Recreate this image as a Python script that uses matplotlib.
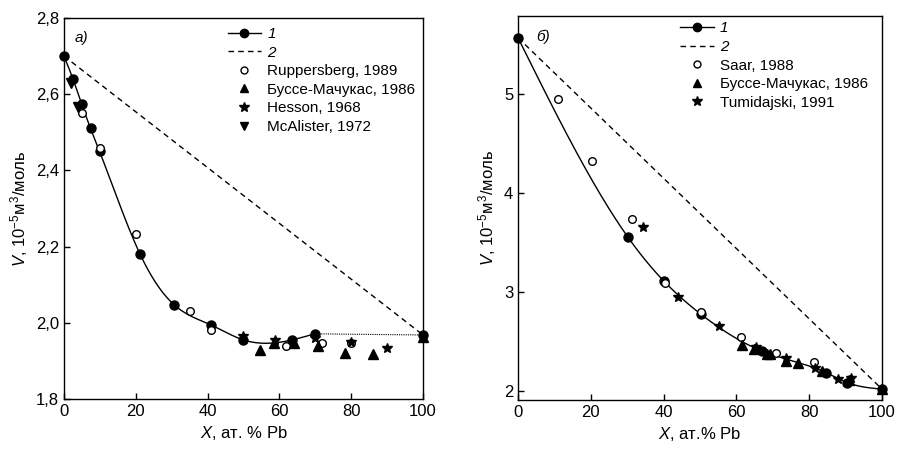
import numpy as np
import matplotlib
matplotlib.use("Agg")
import matplotlib.pyplot as plt
from matplotlib.lines import Line2D
from matplotlib.ticker import FuncFormatter

plt.rcParams["font.family"] = ["Liberation Sans", "DejaVu Sans"]
plt.rcParams["mathtext.fontset"] = "custom"
plt.rcParams["mathtext.rm"] = "Liberation Sans"
plt.rcParams["mathtext.it"] = "Liberation Sans:italic"
plt.rcParams["font.size"] = 11

# ---- panel a) ----
a_calc_x = [0, 2.5, 4.9, 7.4, 9.9, 21.2, 30.7, 41.0, 50.0, 63.5, 69.8]
a_calc_y = [2.70, 2.64, 2.575, 2.51, 2.45, 2.18, 2.047, 1.994, 1.955, 1.955, 1.971]
a_ideal_x = [0, 100]
a_ideal_y = [2.70, 1.968]
a_dot_x = [69.8, 100]
a_dot_y = [1.971, 1.968]
a_end_x = [100]
a_end_y = [1.968]

rupp_x = [4.9, 10.0, 20.0, 35.0, 40.9, 61.8, 72.0, 80.0]
rupp_y = [2.551, 2.458, 2.232, 2.031, 1.980, 1.940, 1.946, 1.948]
busse_a_x = [54.6, 58.5, 64.0, 70.8, 78.4, 86.0, 100]
busse_a_y = [1.929, 1.946, 1.946, 1.940, 1.922, 1.919, 1.962]
hesson_x = [50.0, 58.9, 69.8, 79.9, 89.9]
hesson_y = [1.965, 1.954, 1.960, 1.950, 1.935]
mcal_x = [1.9, 4.0]
mcal_y = [2.63, 2.566]

# ---- panel б) ----
b_calc_x = [0, 30.1, 40.1, 50.2, 66.9, 84.7, 90.5, 100]
b_calc_y = [5.57, 3.56, 3.11, 2.778, 2.407, 2.185, 2.085, 2.02]
b_ideal_x = [0, 100]
b_ideal_y = [5.57, 2.02]

saar_x = [11.0, 20.4, 31.2, 40.3, 50.3, 61.3, 70.9, 81.2]
saar_y = [4.95, 4.32, 3.74, 3.09, 2.80, 2.549, 2.387, 2.293]
busse_b_x = [61.4, 64.9, 68.5, 69.3, 73.7, 76.8, 83.6, 91.0, 100]
busse_b_y = [2.465, 2.43, 2.374, 2.374, 2.30, 2.28, 2.20, 2.11, 2.02]
tumi_x = [34.4, 43.9, 55.3, 65.4, 73.7, 81.5, 88.0, 91.4]
tumi_y = [3.66, 2.95, 2.66, 2.448, 2.33, 2.23, 2.12, 2.13]


def natural_spline(x, y, xs):
    x = np.asarray(x, float)
    y = np.asarray(y, float)
    n = len(x)
    h = np.diff(x)
    A = np.zeros((n, n))
    r = np.zeros(n)
    A[0, 0] = A[-1, -1] = 1
    for i in range(1, n - 1):
        A[i, i - 1] = h[i - 1]
        A[i, i] = 2 * (h[i - 1] + h[i])
        A[i, i + 1] = h[i]
        r[i] = 6 * ((y[i + 1] - y[i]) / h[i] - (y[i] - y[i - 1]) / h[i - 1])
    M = np.linalg.solve(A, r)
    k = np.clip(np.searchsorted(x, xs) - 1, 0, n - 2)
    t0 = x[k + 1] - xs
    t1 = xs - x[k]
    hk = h[k]
    return (M[k] * t0 ** 3 / (6 * hk) + M[k + 1] * t1 ** 3 / (6 * hk)
            + (y[k] / hk - M[k] * hk / 6) * t0
            + (y[k + 1] / hk - M[k + 1] * hk / 6) * t1)


def comma(v, pos):
    return f"{v:.1f}".replace(".", ",")


def style_axes(ax):
    ax.tick_params(direction="in", length=4, width=1, labelsize=12)
    for s in ax.spines.values():
        s.set_linewidth(1)
    ax.set_xlim(0, 100)
    ax.set_xticks([0, 20, 40, 60, 80, 100])


ms = dict(color="black", linestyle="none", clip_on=False)

fig = plt.figure(figsize=(8.97, 4.51), dpi=100)
ax1 = fig.add_axes([0.0713, 0.1153, 0.4003, 0.845])
ax2 = fig.add_axes([0.5775, 0.1131, 0.4058, 0.8514])

# panel a
xs = np.linspace(a_calc_x[0], a_calc_x[-1], 300)
ax1.plot(xs, natural_spline(a_calc_x, a_calc_y, xs), color="black", lw=1)
ax1.plot(a_calc_x, a_calc_y, marker="o", markersize=6.5, **ms)
ax1.plot(a_end_x, a_end_y, marker="o", markersize=6.5, **ms)
ax1.plot(a_ideal_x, a_ideal_y, color="black", lw=1, ls=(0, (4, 3)))
ax1.plot(a_dot_x, a_dot_y, color="black", lw=0.8, ls=(0, (1, 1)))
ax1.plot(rupp_x, rupp_y, marker="o", markersize=5.5, mfc="white", mec="black", **ms)
ax1.plot(busse_a_x, busse_a_y, marker="^", markersize=6.5, **ms)
ax1.plot(hesson_x, hesson_y, marker="*", markersize=7.5, **ms)
ax1.plot(mcal_x, mcal_y, marker="v", markersize=6.5, **ms)

style_axes(ax1)
ax1.set_ylim(1.8, 2.8)
ax1.set_yticks([1.8, 2.0, 2.2, 2.4, 2.6, 2.8])
ax1.yaxis.set_major_formatter(FuncFormatter(comma))
ax1.set_xlabel("$X$, ат. % Pb", fontsize=12)
ax1.set_ylabel("$V$, 10$^{-5}$м$^3$/моль", fontsize=12)
ax1.text(0.03, 0.965, "а)", transform=ax1.transAxes, fontstyle="italic",
         va="top", ha="left", fontsize=11)

h1 = [Line2D([], [], color="black", lw=1, marker="o", markersize=6),
      Line2D([], [], color="black", lw=1, ls=(0, (4, 3))),
      Line2D([], [], color="black", ls="none", marker="o", markersize=5, mfc="white"),
      Line2D([], [], color="black", ls="none", marker="^", markersize=6),
      Line2D([], [], color="black", ls="none", marker="*", markersize=7),
      Line2D([], [], color="black", ls="none", marker="v", markersize=6)]
l1 = ["1", "2", "Ruppersberg, 1989", "Буссе-Мачукас, 1986", "Hesson, 1968",
      "McAlister, 1972"]
leg = ax1.legend(h1, l1, loc="upper left", bbox_to_anchor=(0.43, 1.0),
                 frameon=False, numpoints=1, handlelength=2.2,
                 labelspacing=0.3, handletextpad=0.4, fontsize=11,
                 borderaxespad=0.2)
for t in leg.get_texts()[:2]:
    t.set_fontstyle("italic")

# panel b
xs = np.linspace(b_calc_x[0], b_calc_x[-1], 300)
ax2.plot(xs, natural_spline(b_calc_x, b_calc_y, xs), color="black", lw=1)
ax2.plot(b_calc_x, b_calc_y, marker="o", markersize=6.5, **ms)
ax2.plot(b_ideal_x, b_ideal_y, color="black", lw=1, ls=(0, (4, 3)))
ax2.plot(saar_x, saar_y, marker="o", markersize=5.5, mfc="white", mec="black", **ms)
ax2.plot(busse_b_x, busse_b_y, marker="^", markersize=6.5, **ms)
ax2.plot(tumi_x, tumi_y, marker="*", markersize=7.5, **ms)

style_axes(ax2)
ax2.set_ylim(1.91, 5.79)
ax2.set_yticks([2, 3, 4, 5])
ax2.set_xlabel("$X$, ат.% Pb", fontsize=12)
ax2.set_ylabel("$V$, 10$^{-5}$м$^3$/моль", fontsize=12)
ax2.text(0.05, 0.965, "б)", transform=ax2.transAxes, fontstyle="italic",
         va="top", ha="left", fontsize=11)

h2 = [h1[0], h1[1], h1[2], h1[3], h1[4]]
l2 = ["1", "2", "Saar, 1988", "Буссе-Мачукас, 1986", "Tumidajski, 1991"]
leg2 = ax2.legend(h2, l2, loc="upper left", bbox_to_anchor=(0.42, 1.01),
                  frameon=False, numpoints=1, handlelength=2.2,
                  labelspacing=0.3, handletextpad=0.4, fontsize=11,
                  borderaxespad=0.2)
for t in leg2.get_texts()[:2]:
    t.set_fontstyle("italic")

fig.savefig("out.png", dpi=100)
